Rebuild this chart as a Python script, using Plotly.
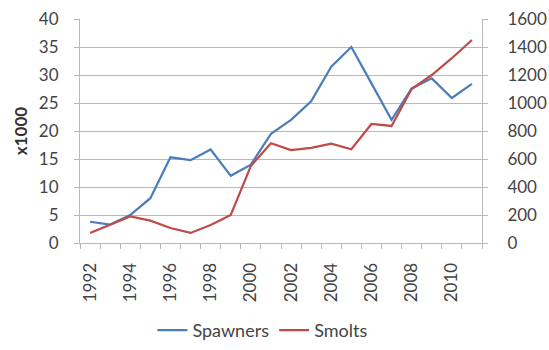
import plotly.graph_objects as go

years = list(range(1992, 2012))
spawners = [3.8, 3.3, 5.0, 8.0, 15.3, 14.8, 16.7, 12.0, 14.0, 19.5, 22.0, 25.3,
            31.5, 35.0, 28.5, 22.0, 27.6, 29.4, 25.9, 28.4]
smolts = [72, 130, 190, 160, 107, 72, 129, 200, 550, 712, 664, 680,
          710, 670, 850, 836, 1100, 1200, 1320, 1450]

left_ticks = list(range(0, 45, 5))
right_ticks = list(range(0, 1800, 200))
label_years = list(range(1992, 2012, 2))

font = dict(family="Lato, Open Sans, sans-serif", size=17, color="#444444")
grid = "#b8b8b8"

fig = go.Figure()
fig.add_trace(go.Scatter(x=years, y=spawners, mode="lines", name="Spawners",
                         line=dict(color="#4A7EBB", width=2.2)))
fig.add_trace(go.Scatter(x=years, y=smolts, mode="lines", name="Smolts",
                         yaxis="y2", line=dict(color="#BE4B48", width=2.2)))

fig.update_layout(
    width=549, height=350,
    margin=dict(l=80, r=67, t=19, b=107, autoexpand=False),
    paper_bgcolor="white", plot_bgcolor="white",
    font=font,
    showlegend=True,
    legend=dict(orientation="h", x=0.455, xanchor="center", y=-0.39, yanchor="middle",
                font=dict(size=18, color="#444444"), itemwidth=30, tracegroupgap=0),
    xaxis=dict(
        range=[1991.5, 2011.5], tickmode="array", tickvals=label_years,
        ticktext=[str(y) for y in label_years], tickangle=-90,
        ticks="", showgrid=False, zeroline=False, automargin=False,
        showline=True, linecolor=grid, linewidth=1,
        minor=dict(tickmode="array", tickvals=[y - 0.5 for y in years] + [2011.5],
                   ticks="outside", ticklen=5, tickcolor=grid, showgrid=False),
        ticklabelstandoff=12,
    ),
    yaxis=dict(
        range=[0, 40], tickvals=left_ticks, showgrid=True, gridcolor=grid,
        zeroline=False, showline=True, linecolor=grid, ticks="outside",
        ticklen=5, tickcolor=grid, ticklabelstandoff=12, automargin=False,
        title=dict(text="<b>x1000</b>", font=dict(size=17, color="#333333"), standoff=6),
    ),
    yaxis2=dict(
        range=[0, 1600], tickvals=right_ticks, overlaying="y", side="right",
        showgrid=False, zeroline=False, showline=True, linecolor=grid,
        ticks="outside", ticklen=5, tickcolor=grid, ticklabelstandoff=16,
        automargin=False,
    ),
)

fig.write_html("out.html")
